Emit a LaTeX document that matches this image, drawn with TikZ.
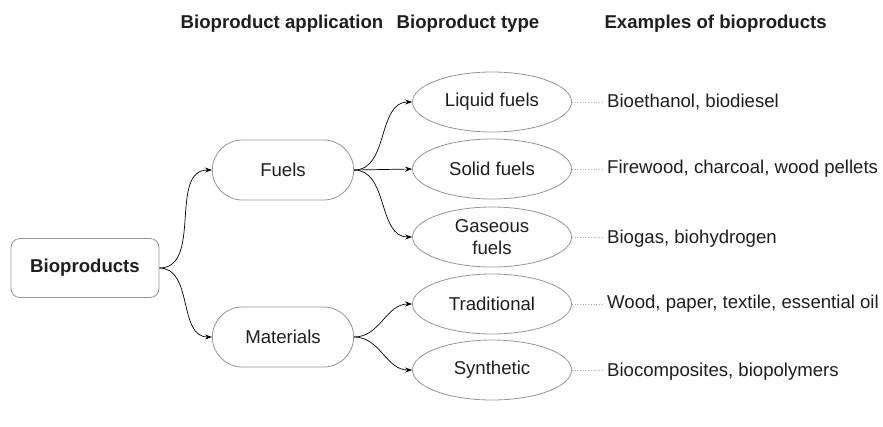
\documentclass[tikz,border=0pt]{standalone}
\usepackage{fontspec}
\setmainfont{Liberation Sans}
\usetikzlibrary{positioning,arrows.meta,shapes.geometric,shapes.misc}
\definecolor{edgegray}{RGB}{150,150,150}
\definecolor{inkdark}{RGB}{30,30,30}
\definecolor{dotgray}{RGB}{175,175,175}

\begin{document}
\begin{tikzpicture}[x=1pt,y=-1pt,
  font=\fontsize{18.6}{22}\selectfont,text=inkdark,
  rootbox/.style={rectangle,rounded corners=9pt,draw=edgegray,line width=0.8pt,
    minimum width=148pt,minimum height=59pt},
  appbox/.style={rounded rectangle,draw=edgegray,line width=0.8pt,
    minimum width=148pt,minimum height=60pt},
  typebox/.style={ellipse,draw=edgegray,line width=0.8pt,inner sep=0pt,
    minimum width=159pt,minimum height=60pt,align=center},
  header/.style={font=\fontsize{18.6}{22}\selectfont\bfseries},
  example/.style={anchor=west,inner sep=4pt},
  link/.style={-{Stealth[length=7pt,width=5pt]},line width=0.7pt,black},
  leader/.style={dotgray,dotted,line width=0.7pt}]
\useasboundingbox (0,0) rectangle (883,426);

% column headers
\node[header] (hApp) at (282,24) {Bioproduct application};
\node[header] (hType) at (468,24) {Bioproduct type};
\node[header,anchor=west] (hEx) at (601,24) {Examples of bioproducts};

% tree
\node[rootbox,font=\fontsize{18.6}{22}\selectfont\bfseries] (root) at (85,268) {Bioproducts};
\node[appbox] (fuels) at (283,170) {Fuels};
\node[appbox] (materials) at (283,337) {Materials};

\node[typebox] (liquid) at (492,102) {Liquid fuels};
\node[typebox] (solid) at (492,169) {Solid fuels};
\node[typebox] (gaseous) at (492,237) {Gaseous\\fuels};
\node[typebox] (traditional) at (492,304) {Traditional};
\node[typebox] (synthetic) at (492,370) {Synthetic};

% examples
\node[example] (exLiquid) at (603,102) {Bioethanol, biodiesel};
\node[example] (exSolid) at (603,169) {Firewood, charcoal, wood pellets};
\node[example] (exGaseous) at (603,239) {Biogas, biohydrogen};
\node[example] (exTraditional) at (603,304) {Wood, paper, textile, essential oil};
\node[example] (exSynthetic) at (603,372) {Biocomposites, biopolymers};

% connectors
\draw[link] (root.east) to[out=0,in=180] (fuels.west);
\draw[link] (root.east) to[out=0,in=180] (materials.west);
\draw[link] (fuels.east) to[out=0,in=180] (liquid.west);
\draw[link] (fuels.east) -- (solid.west);
\draw[link] (fuels.east) to[out=0,in=180] (gaseous.west);
\draw[link] (materials.east) to[out=0,in=180] (traditional.west);
\draw[link] (materials.east) to[out=0,in=180] (synthetic.west);

\draw[leader] (liquid.east) -- (exLiquid.west);
\draw[leader] (solid.east) -- (exSolid.west);
\draw[leader] (gaseous.east) -- (gaseous.east -| exGaseous.west);
\draw[leader] (traditional.east) -- (exTraditional.west);
\draw[leader] (synthetic.east) -- (synthetic.east -| exSynthetic.west);
\end{tikzpicture}
\end{document}
